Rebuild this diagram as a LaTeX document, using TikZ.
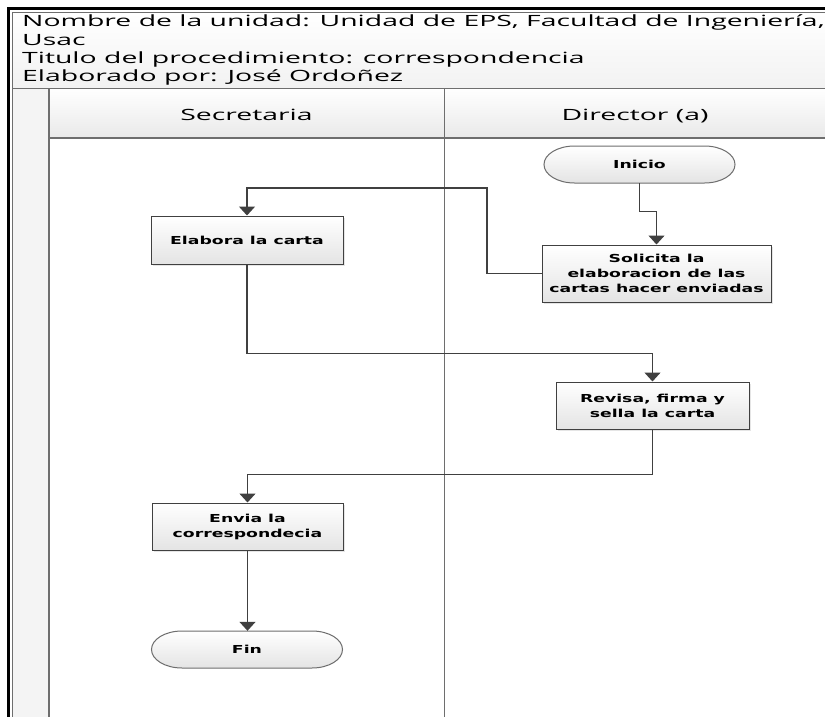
\documentclass[tikz,border=0pt]{standalone}
\usepackage{fontspec}
\usepackage{tikz}
\usetikzlibrary{positioning, arrows.meta, shadows}
\newfontfamily\headfont[FakeStretch=1.83]{Open Sans}
\newfontfamily\boxfont[FakeStretch=1.57]{DejaVu Sans}
\definecolor{laneline}{HTML}{6E6E6E}
\definecolor{flowline}{HTML}{404040}
\definecolor{lanefill}{HTML}{E9E9E9}
\definecolor{boxfill}{HTML}{E4E4E4}
\tikzset{%
  task/.style={
    rectangle,
    draw=flowline,
    line width=1pt,
    top color=white,
    bottom color=boxfill,
    drop shadow={shadow xshift=2pt, shadow yshift=-2pt, opacity=0.2},
    align=center,
    inner sep=0pt,
    font=\boxfont\bfseries\fontsize{11}{15}\selectfont
  },
  terminal/.style={
    draw=none,
    minimum width=191pt,
    minimum height=37pt,
    inner sep=0pt,
    font=\boxfont\bfseries\fontsize{11}{15}\selectfont
  },
  flow/.style={
    draw=flowline,
    line width=1.4pt,
    -{Triangle[width=16pt, length=9pt]}
  },
  lane/.style={draw=laneline, line width=1.8pt},
  headtext/.style={anchor=base west, inner sep=0pt, font=\headfont\fontsize{15.5}{18}\selectfont},
  lanetext/.style={anchor=base, inner sep=0pt, font=\headfont\fontsize{15.5}{18}\selectfont},
}

\begin{document}
\begin{tikzpicture}[x=1pt, y=1pt]

\useasboundingbox (0,0) rectangle (825,-717);
\fill[white] (0,0) rectangle (825,-717);

\shade[top color=white, bottom color=lanefill!60] (12.5,-12.5) rectangle (825,-88.5);
\fill[lanefill!50] (12.5,-88.5) rectangle (49,-717);
\shade[top color=white, bottom color=lanefill] (49,-88.5) rectangle (825,-138);
\draw[black, line width=2.8pt] (8.5,-717) -- (8.5,-8.5) -- (825,-8.5);
\draw[laneline, line width=1pt] (12.5,-717) -- (12.5,-12.5) -- (825,-12.5);
\draw[lane] (12.5,-88.5) -- (825,-88.5);
\draw[lane] (49,-138) -- (825,-138);
\draw[lane] (49,-88.5) -- (49,-717);
\draw[lane] (444.5,-88.5) -- (444.5,-717);

\foreach \t [count=\i] in {{Nombre de la unidad: Unidad de EPS, Facultad de Ingeniería,}, Usac,
    {Titulo del procedimiento: correspondencia}, {Elaborado por: José Ordoñez}}
  \node [headtext] (head-\i) at (22,-27-18.3*\i+18.3) {\t};

\node [lanetext] (lane-sec) at (246.5,-120) {Secretaria};
\node [lanetext] (lane-dir) at (635,-120) {Director (a)};

\foreach \n/\x/\y/\t in {inicio/639.5/-164.5/Inicio, fin/247/-649.5/Fin} {
  \shade [top color=white, bottom color=boxfill, draw=laneline, line width=1pt]
    (\x-65,\y+18.5) -- (\x+65,\y+18.5)
    arc[start angle=90, end angle=-90, x radius=30.5pt, y radius=18.5pt]
    -- (\x-65,\y-18.5)
    arc[start angle=270, end angle=90, x radius=30.5pt, y radius=18.5pt] -- cycle;
  \node [terminal] (\n) at (\x,\y) {\t};
}

\node [task, minimum width=192pt, minimum height=48pt] (elabora) at (247,-240) {Elabora la carta};
\node [task, minimum width=229pt, minimum height=57pt] (solicita) at (656.5,-273.5)
  {Solicita la\\elaboracion de las\\cartas hacer enviadas};
\node [task, minimum width=193pt, minimum height=47pt] (revisa) at (652.5,-405.5)
  {Revisa, firma y\\sella la carta};
\node [task, minimum width=191pt, minimum height=47pt] (envia) at (247.5,-526.5)
  {Envia la\\correspondecia};

\draw [flow] (inicio.south) -- ++(0,-28) -| (solicita.north);
\draw [flow] (solicita.west) -| (487,-188) -| (elabora.north);
\draw [flow] (elabora.south) -- ++(0,-89) -| (revisa.north);
\draw [flow] (revisa.south) -- ++(0,-45) -| (envia.north);
\draw [flow] (envia.south) -- (envia.south |- fin.north);

\end{tikzpicture}
\end{document}
